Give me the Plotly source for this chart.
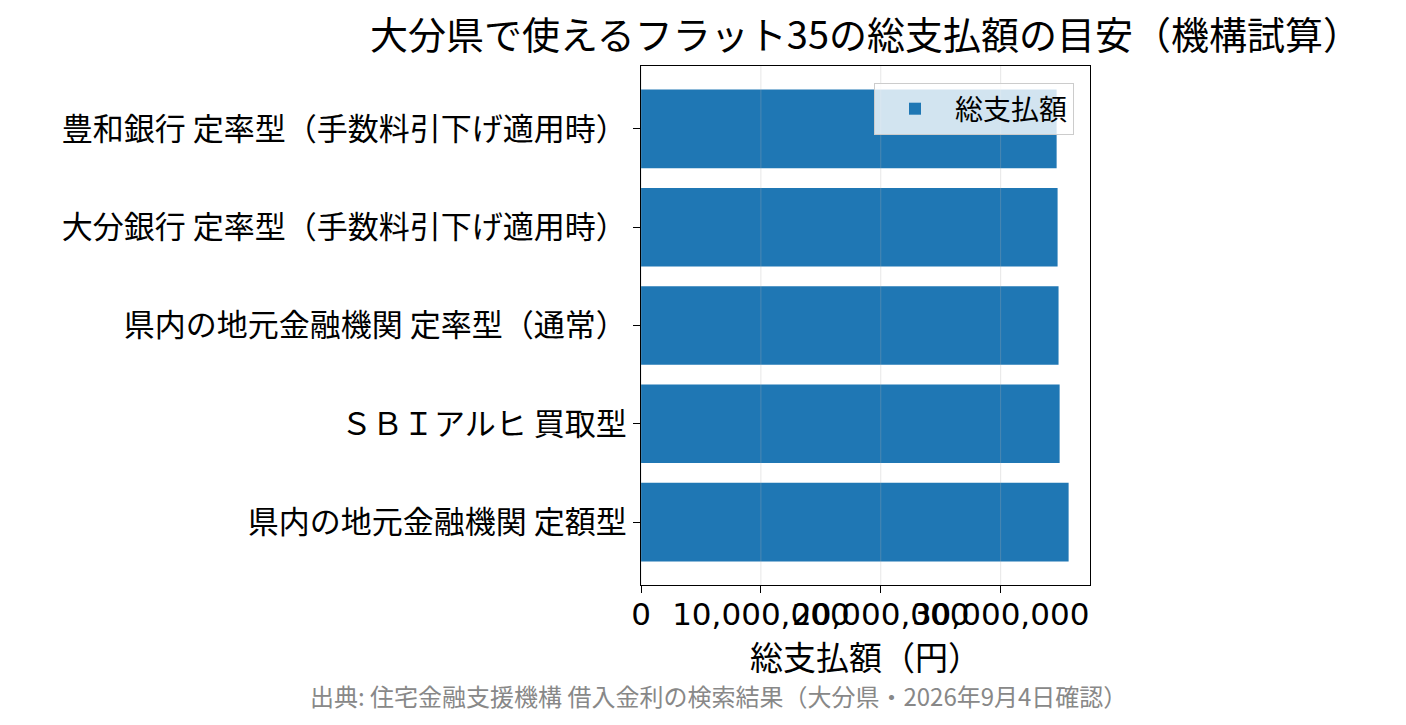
import plotly.graph_objects as go

categories = [
    "県内の地元金融機関 定額型",
    "ＳＢＩアルヒ 買取型",
    "県内の地元金融機関 定率型（通常）",
    "大分銀行 定率型（手数料引下げ適用時）",
    "豊和銀行 定率型（手数料引下げ適用時）",
]
total_payment = [35_670_000, 34_920_000, 34_830_000, 34_750_000, 34_670_000]
x_tickvals = [0, 10_000_000, 20_000_000, 30_000_000]
x_ticktext = [f"{v:,}" for v in x_tickvals]

FONT = "Noto Sans CJK JP"
NUMFONT = "DejaVu Sans"
W, H = 1406, 725
OFF = 8  # page body margin
# target plot area in screenshot pixels
PX0, PX1, PY0, PY1 = 641, 1090, 66, 585
L, T = PX0 - OFF, PY0 - OFF
R = W - (PX1 - OFF)
B = H - (PY1 - OFF)
pw, ph = PX1 - PX0, PY1 - PY0

fig = go.Figure()
fig.add_trace(go.Bar(
    x=total_payment, y=categories, orientation="h",
    marker=dict(color="#1f77b4", line=dict(width=0)),
    name="総支払額",
))

shapes = [
    dict(type="line", xref="x", yref="paper", x0=v, x1=v, y0=0, y1=1,
         line=dict(color="rgba(176,176,176,0.3)", width=1), layer="above")
    for v in x_tickvals
]

fig.update_layout(
    width=W, height=H,
    margin=dict(l=L, r=R, t=T, b=B, pad=0),
    paper_bgcolor="white", plot_bgcolor="white",
    font=dict(family=FONT, color="black"),
    bargap=0.2,
    showlegend=True,
    title=dict(text="大分県で使えるフラット35の総支払額の目安（機構試算）",
               x=0.5, xref="paper", xanchor="center",
               y=1 - (36 - OFF) / H, yref="container", yanchor="middle",
               font=dict(size=38, family=FONT, color="black")),
    legend=dict(x=1 - 16 / pw, y=1 - 17 / ph, xanchor="right", yanchor="top",
                bgcolor="rgba(255,255,255,0.8)", bordercolor="#cccccc", borderwidth=1,
                itemwidth=70,
                font=dict(size=28, family=FONT)),
    shapes=shapes,
    annotations=[dict(text="出典: 住宅金融支援機構 借入金利の検索結果（大分県・2026年9月4日確認）",
                      xref="paper", yref="paper", x=(718 - PX0) / pw, y=(PY1 - 695) / ph,
                      xanchor="center", yanchor="middle", showarrow=False,
                      font=dict(size=24, color="#888888", family=FONT))],
)
fig.update_xaxes(
    range=[0, max(total_payment) * 1.05],
    tickvals=x_tickvals, ticktext=x_ticktext, tickangle=0,
    ticks="outside", ticklen=7, tickcolor="black", tickwidth=1,
    ticklabelstandoff=-5,
    tickfont=dict(size=31, family=NUMFONT),
    showgrid=False, zeroline=False,
    showline=True, linecolor="black", linewidth=1.2, mirror=True,
    title=dict(text="総支払額（円）", font=dict(size=33, family=FONT), standoff=0),
    automargin=False,
)
fig.update_yaxes(
    categoryorder="array", categoryarray=categories,
    range=[-0.64, 4.64],
    ticks="outside", ticklen=7, tickcolor="black", tickwidth=1,
    tickfont=dict(size=31, family=FONT),
    showgrid=False, zeroline=False,
    showline=True, linecolor="black", linewidth=1.2, mirror=True,
    automargin=False,
)
fig.write_html("out.html")
